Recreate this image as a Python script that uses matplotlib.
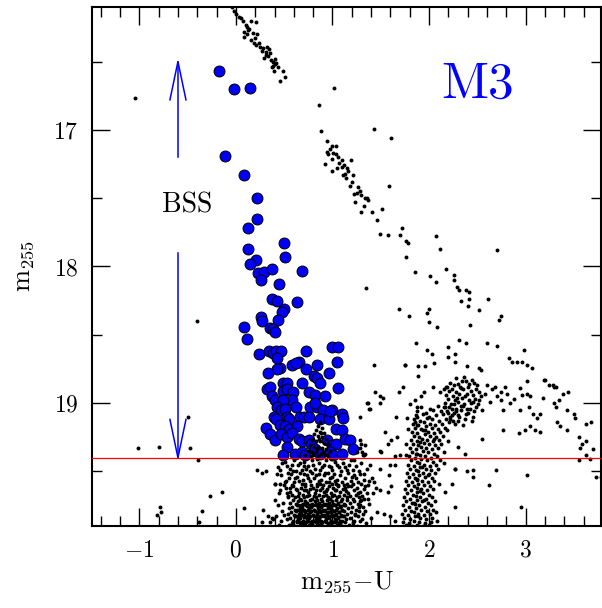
import numpy as np
import matplotlib
matplotlib.use("Agg")
import matplotlib.pyplot as plt
from matplotlib.ticker import MultipleLocator

plt.rcParams['font.family'] = 'cmr10'
plt.rcParams['mathtext.fontset'] = 'cm'
plt.rcParams['axes.formatter.use_mathtext'] = True

# colour (m255-U), magnitude m255 read off the CMD
# upper red giant branch
rgb_top = [(-0.045,16.10),(-0.02,16.13),(0.00,16.15),(0.03,16.17),(0.05,16.18),(0.07,16.20),(0.16,16.20),
           (0.21,16.21),(0.10,16.23),(0.11,16.25),(0.14,16.26),(0.13,16.27),(0.08,16.28),(0.18,16.29),
           (0.22,16.30),(0.12,16.30),(0.08,16.32),(0.20,16.33),(0.16,16.34),(0.19,16.36),(0.24,16.36),
           (0.21,16.38),(0.25,16.39),(0.28,16.40),(0.32,16.39),(0.34,16.41),(0.27,16.42),(0.31,16.43),
           (0.35,16.44),(0.31,16.45),(0.33,16.46),(0.29,16.47),(0.40,16.48),(0.36,16.49),(0.38,16.50),
           (0.42,16.51),(0.40,16.52),(0.38,16.53),(0.37,16.54),(0.44,16.54),(0.39,16.57),(0.49,16.57),
           (0.51,16.61),(0.46,16.64)]

# RGB / AGB between 16.7 and 18.9
rgb_mid = [(1.02,16.69),(0.86,16.82),(0.88,17.01),(0.94,17.08),(1.00,17.12),(1.04,17.12),(0.97,17.14),
           (0.94,17.16),(0.95,17.18),(1.01,17.17),(1.04,17.18),(1.06,17.20),(1.00,17.21),(0.92,17.25),
           (1.07,17.24),(1.10,17.22),(1.19,17.22),(1.12,17.26),(0.99,17.30),(1.10,17.27),(1.15,17.28),
           (1.05,17.28),(1.16,17.30),(1.13,17.32),(1.11,17.33),(1.14,17.35),(1.21,17.33),(1.20,17.38),
           (1.18,17.41),(1.26,17.42),(1.22,17.47),(1.25,17.46),(1.28,17.45),(1.30,17.48),(1.34,17.50),
           (1.36,17.50),(1.23,17.53),(1.37,17.51),(1.30,17.60),(1.33,17.56),(1.41,17.60),(1.51,17.58),
           (1.46,17.66),(1.72,17.72),(1.49,17.76),(1.57,17.77),(1.70,17.77),(1.76,17.81),(1.78,17.83),
           (1.76,17.93),(1.85,18.04),(2.01,18.07),(2.07,18.11),(2.18,18.02),(2.26,18.06),(2.26,18.10),
           (2.29,18.15),(2.31,18.17),(2.38,18.17),(2.41,18.19),(2.33,18.25),(2.41,18.24),(2.40,18.29),
           (2.61,18.24),(2.52,18.32),(1.69,18.31),(1.79,18.36),(1.98,18.34),(2.00,18.31),(2.00,18.41),
           (2.08,18.44),(2.42,18.43),(2.72,18.39),(2.75,18.36),(1.86,18.56),(1.98,18.61),(2.03,18.64),
           (2.20,18.59),(2.20,18.66),(2.27,18.64),(2.31,18.54),(2.38,18.56),(2.60,18.56),(2.70,18.58),
           (1.75,18.72),(1.89,18.73),(1.96,18.73),(1.89,18.80),(2.05,18.71),(2.27,18.70),(2.39,18.73),
           (2.52,18.74),(2.54,18.76),(2.83,18.67),(2.86,18.70),(2.91,18.70),(2.96,18.70),(3.01,18.72),
           (3.07,18.74),(2.98,18.61),(3.19,18.83),(3.28,18.87),(3.31,18.88)]

# horizontal branch: red clump and the tail to the right
hb = [(2.28,18.82),(2.36,18.81),(2.44,18.83),(2.22,18.85),(2.30,18.86),(2.38,18.84),(2.47,18.85),
      (2.19,18.88),(2.26,18.87),(2.33,18.89),(2.40,18.88),(2.50,18.87),(2.21,18.91),(2.28,18.92),
      (2.35,18.90),(2.43,18.91),(2.52,18.92),(2.18,18.94),(2.25,18.95),(2.31,18.93),(2.37,18.95),
      (2.45,18.94),(2.54,18.95),(2.20,18.97),(2.27,18.98),(2.34,18.96),(2.41,18.98),(2.48,18.97),
      (2.17,19.00),(2.23,19.01),(2.30,18.99),(2.36,19.01),(2.43,19.00),(2.51,19.01),(2.21,19.03),
      (2.28,19.04),(2.35,19.02),(2.42,19.04),(2.49,19.03),(2.19,19.06),(2.26,19.07),(2.33,19.05),
      (2.40,19.07),(2.47,19.06),(2.24,19.09),(2.31,19.10),(2.38,19.08),(2.45,19.10),(2.22,19.12),
      (2.30,19.13),(2.37,19.12),(2.27,19.15),(2.35,19.16),(2.55,19.05),(2.55,19.26),(2.32,18.88),
      (2.39,18.93),(2.29,18.96),(2.46,18.99),(2.33,19.02),(2.24,18.90),(2.41,18.86),(2.49,18.90),
      (2.26,19.01),(2.39,19.04),(2.44,19.13),(2.52,18.98),(2.15,19.03),(2.34,18.84),
      (2.60,18.87),(2.65,18.90),(2.68,18.88),(2.74,18.92),(2.79,18.88),(2.81,18.93),(2.74,18.98),
      (2.63,18.99),(2.77,19.05),(2.84,19.00),(2.94,18.89),(2.96,18.94),(3.01,18.93),(3.05,18.95),
      (3.01,18.84),(2.94,19.05),(3.03,19.03),(3.08,19.08),(3.12,19.11),(3.15,19.08),(3.05,19.17),
      (2.99,19.20),(3.10,19.20),(3.15,19.21),(3.20,18.83),(3.24,18.87),(3.29,18.88),(3.39,18.93),
      (3.44,18.92),(3.29,19.00),(3.31,19.03),(3.43,19.05),(3.50,19.08),(3.51,19.11),(3.36,19.17),
      (3.43,19.20),(3.32,19.14),(3.55,19.25),(3.63,19.15),(3.68,19.14),(3.58,19.30),(3.62,19.28),
      (3.56,19.33),(3.55,19.42),(3.63,19.38),(3.67,19.41),(3.70,19.34),(2.93,19.22),(2.77,19.20),
      (2.70,18.95),(2.88,18.97),(3.18,18.96),(3.35,18.98),(2.58,18.93)]

# base of the red giant branch / subgiants
rgb_base = [(1.92,19.03),(2.01,19.04),(2.09,19.02),(2.16,19.03),(2.24,19.04),
            (1.88,19.06),(1.97,19.07),(2.04,19.05),(2.12,19.06),(2.20,19.07),(2.28,19.06),
            (1.86,19.09),(1.94,19.08),(2.00,19.10),(2.07,19.09),(2.14,19.08),(2.22,19.10),
            (1.84,19.12),(1.91,19.13),(1.98,19.11),(2.03,19.12),(2.10,19.13),(2.18,19.12),
            (1.83,19.15),(1.89,19.16),(1.95,19.14),(2.01,19.15),(2.06,19.16),(2.13,19.15),(2.21,19.14),
            (1.85,19.18),(1.92,19.19),(1.97,19.17),(2.03,19.18),(2.09,19.19),(2.16,19.18),
            (1.82,19.21),(1.88,19.22),(1.94,19.20),(1.99,19.21),(2.05,19.22),(2.11,19.21),
            (1.84,19.24),(1.90,19.25),(1.96,19.23),(2.01,19.24),(2.07,19.25),(2.14,19.24),
            (1.81,19.27),(1.87,19.28),(1.93,19.26),(1.98,19.27),(2.04,19.28),(2.10,19.27),
            (1.83,19.30),(1.89,19.31),(1.95,19.29),(2.00,19.30),(2.06,19.31),(2.12,19.30),
            (1.80,19.33),(1.86,19.34),(1.92,19.32),(1.97,19.33),(2.03,19.34),(2.09,19.33),
            (1.82,19.36),(1.88,19.37),(1.94,19.35),(1.99,19.36),(2.05,19.37),(2.15,19.36),
            (1.79,19.39),(1.85,19.40),(1.91,19.38),(1.96,19.39),(2.02,19.40),(2.08,19.39),
            (1.81,19.42),(1.87,19.43),(1.92,19.41),(1.98,19.42),(2.04,19.43),(2.11,19.42),
            (1.78,19.45),(1.84,19.46),(1.90,19.44),(1.95,19.45),(2.01,19.46),(2.07,19.45),
            (1.80,19.48),(1.86,19.49),(1.91,19.47),(1.97,19.48),(2.02,19.49),(2.09,19.48),
            (1.77,19.51),(1.83,19.52),(1.89,19.50),(1.94,19.51),(2.00,19.52),(2.06,19.51),
            (1.79,19.54),(1.85,19.55),(1.90,19.53),(1.96,19.54),(2.03,19.55),
            (1.76,19.57),(1.82,19.58),(1.88,19.56),(1.93,19.57),(1.99,19.58),(2.05,19.57),
            (1.78,19.60),(1.84,19.61),(1.89,19.59),(1.95,19.60),(2.01,19.61),
            (1.75,19.63),(1.81,19.64),(1.87,19.62),(1.92,19.63),(1.98,19.64),(2.04,19.63),
            (1.77,19.66),(1.83,19.67),(1.88,19.65),(1.94,19.66),(2.00,19.67),
            (1.74,19.69),(1.80,19.70),(1.86,19.68),(1.91,19.69),(1.97,19.70),(2.03,19.69),
            (1.76,19.72),(1.82,19.73),(1.87,19.71),(1.93,19.72),(1.99,19.73),(2.06,19.72),
            (1.73,19.75),(1.79,19.76),(1.85,19.74),(1.90,19.75),(1.96,19.76),(2.02,19.75),
            (1.75,19.78),(1.81,19.79),(1.86,19.77),(1.92,19.78),(1.98,19.79),(2.04,19.78),
            (1.72,19.81),(1.78,19.82),(1.84,19.80),(1.89,19.81),(1.95,19.82),(2.01,19.81),(2.07,19.80),
            (1.74,19.84),(1.80,19.85),(1.85,19.83),(1.91,19.84),(1.97,19.85),(2.03,19.84),
            (1.73,19.87),(1.79,19.88),(1.84,19.86),(1.90,19.87),(1.96,19.88),(2.02,19.87),(2.08,19.86),
            (1.76,19.89),(1.82,19.90),(1.88,19.89),(1.94,19.90),(2.00,19.89),
            (1.87,19.105),(1.96,19.195),(1.91,19.285),(1.86,19.375),(1.93,19.465),(1.87,19.555),
            (1.91,19.645),(1.84,19.735),(1.89,19.825),(2.05,19.26),(1.99,19.53),(1.95,19.71),
            (2.25,19.13),(2.19,19.20),(2.20,19.28),(1.78,19.19),(1.76,19.30),(2.30,19.09),
            (2.15,19.44),(2.27,19.48),(2.37,19.37),(2.30,19.32),(2.10,19.59),(2.24,19.59),(2.27,19.76),
            (2.17,19.65),(2.39,19.50),(2.45,19.49),(2.45,19.54),(2.62,19.60),(2.69,19.49),(1.85,19.14),
            (1.87,19.16),(1.66,19.10),(1.77,19.11)]

# main-sequence turnoff
ms_turnoff = [(0.44,19.47),(0.51,19.43),(0.56,19.48),(0.60,19.42),(0.64,19.45),(0.68,19.49),(0.71,19.43),
              (0.75,19.46),(0.79,19.42),(0.82,19.48),(0.86,19.44),(0.89,19.47),(0.93,19.42),(0.96,19.46),
              (1.00,19.49),(1.03,19.43),(1.07,19.47),(1.11,19.44),(1.15,19.49),(1.19,19.42),(1.24,19.46),
              (1.30,19.44),(1.36,19.48),(0.62,19.50),(0.77,19.50),(0.98,19.41),(0.84,19.41),(0.70,19.46),
              (1.09,19.50),(0.53,19.46),
              (0.43,19.52),(0.48,19.44),(0.58,19.45),(0.66,19.44),(0.73,19.48),(0.80,19.45),(0.87,19.49),
              (0.91,19.45),(0.98,19.47),(1.05,19.45),(1.13,19.47),(1.17,19.45),(1.21,19.49),(1.27,19.50),
              (1.33,19.52),(1.39,19.45),
              (0.47,19.53),(0.52,19.57),(0.57,19.52),(0.60,19.58),(0.63,19.54),(0.66,19.51),(0.69,19.56),
              (0.72,19.59),(0.74,19.53),(0.77,19.57),(0.79,19.51),(0.81,19.55),(0.84,19.59),(0.86,19.52),
              (0.88,19.56),(0.91,19.53),(0.93,19.58),(0.95,19.51),(0.97,19.55),(1.00,19.59),(1.02,19.52),
              (1.05,19.56),(1.08,19.53),(1.10,19.58),(1.13,19.55),(1.16,19.51),(1.19,19.57),(1.22,19.53),
              (1.26,19.58),(1.29,19.52),(1.33,19.56),(0.55,19.55),(0.65,19.57),(0.75,19.55),(0.83,19.53),
              (0.90,19.60),(0.99,19.54),(1.06,19.60),(1.15,19.59),(0.71,19.52),(0.61,19.55),(0.92,19.51),
              (1.03,19.57),(0.86,19.57),(1.24,19.55),
              (0.50,19.60),(0.58,19.60),(0.68,19.59),(0.78,19.60),(0.87,19.59),(0.96,19.58),(1.04,19.59),
              (1.12,19.60),(1.21,19.59),(1.30,19.59),(1.38,19.57),
              (0.52,19.62),(0.56,19.65),(0.59,19.61),(0.62,19.63),(0.65,19.66),(0.67,19.62),(0.70,19.64),
              (0.72,19.61),(0.75,19.65),(0.77,19.63),(0.80,19.62),(0.82,19.66),(0.84,19.61),(0.87,19.64),
              (0.89,19.62),(0.91,19.65),(0.94,19.63),(0.96,19.61),(0.98,19.66),(1.01,19.62),(1.03,19.64),
              (1.06,19.61),(1.08,19.65),(1.11,19.63),(1.13,19.62),(1.16,19.66),(1.19,19.61),(1.22,19.64),
              (1.25,19.62),(1.29,19.65),(1.33,19.63),
              (0.63,19.64),(0.73,19.635),(0.83,19.64),(0.93,19.645),(1.04,19.635),(1.14,19.645),(1.26,19.66),
              (0.54,19.68),(0.58,19.67),(0.61,19.69),(0.64,19.68),(0.66,19.70),(0.69,19.67),(0.71,19.69),
              (0.74,19.68),(0.76,19.67),(0.79,19.70),(0.81,19.68),(0.83,19.69),(0.86,19.67),(0.88,19.70),
              (0.90,19.68),(0.93,19.67),(0.95,19.69),(0.97,19.70),(1.00,19.68),(1.02,19.67),(1.05,19.69),
              (1.07,19.68),(1.10,19.70),(1.12,19.67),(1.15,19.69),(1.18,19.68),(1.21,19.70),(1.24,19.67),
              (1.27,19.69),(1.31,19.68),
              (0.56,19.73),(0.59,19.71),(0.62,19.74),(0.64,19.72),(0.67,19.71),(0.69,19.74),(0.72,19.72),
              (0.74,19.73),(0.77,19.71),(0.79,19.74),(0.82,19.72),(0.84,19.71),(0.86,19.73),(0.89,19.72),
              (0.91,19.74),(0.94,19.71),(0.96,19.73),(0.99,19.72),(1.01,19.74),(1.04,19.71),(1.06,19.73),
              (1.09,19.72),(1.12,19.74),(1.15,19.71),(1.18,19.73),(1.22,19.72),(1.26,19.74),(1.30,19.71),
              (0.645,19.745),(0.675,19.75),(0.705,19.74),(0.735,19.755),(0.765,19.745),(0.795,19.75),
              (0.825,19.74),(0.855,19.755),(0.875,19.745),(0.905,19.75),(0.935,19.74),(0.965,19.755),
              (0.995,19.745),(1.025,19.75),(1.055,19.74),(1.085,19.755),(1.115,19.745),
              (0.55,19.77),(0.58,19.76),(0.61,19.78),(0.63,19.75),(0.66,19.77),(0.68,19.76),(0.71,19.78),
              (0.73,19.75),(0.76,19.77),(0.78,19.76),(0.81,19.78),(0.83,19.75),(0.85,19.77),(0.88,19.76),
              (0.90,19.78),(0.93,19.75),(0.95,19.77),(0.98,19.76),(1.00,19.78),(1.03,19.75),(1.05,19.77),
              (1.08,19.76),(1.10,19.78),(1.13,19.75),(1.16,19.77),(1.20,19.76),(1.24,19.78),(1.28,19.75),
              (0.63,19.785),(0.66,19.79),(0.69,19.78),(0.72,19.795),(0.75,19.785),(0.78,19.79),(0.81,19.78),
              (0.84,19.795),(0.86,19.785),(0.89,19.79),(0.92,19.78),(0.95,19.795),(0.98,19.785),
              (1.01,19.79),(1.04,19.78),(1.07,19.795),(1.10,19.785),
              (0.54,19.81),(0.57,19.80),(0.60,19.82),(0.62,19.79),(0.65,19.81),(0.67,19.80),(0.70,19.82),
              (0.72,19.79),(0.75,19.81),(0.77,19.80),(0.80,19.82),(0.82,19.79),(0.84,19.81),(0.87,19.80),
              (0.89,19.82),(0.92,19.79),(0.94,19.81),(0.97,19.80),(0.99,19.82),(1.02,19.79),(1.04,19.81),
              (1.07,19.80),(1.09,19.82),(1.12,19.79),(1.15,19.81),(1.19,19.80),(1.23,19.82),(1.27,19.79),
              (1.32,19.81),
              (0.62,19.825),(0.65,19.83),(0.68,19.82),(0.71,19.835),(0.74,19.825),(0.77,19.83),(0.80,19.82),
              (0.83,19.835),(0.855,19.825),(0.88,19.83),(0.91,19.82),(0.94,19.835),(0.97,19.825),
              (1.00,19.83),(1.03,19.82),(1.06,19.835),(1.09,19.825),(1.12,19.83),
              (0.53,19.85),(0.56,19.84),(0.59,19.86),(0.61,19.83),(0.64,19.85),(0.66,19.84),(0.69,19.86),
              (0.71,19.83),(0.74,19.85),(0.76,19.84),(0.79,19.86),(0.81,19.83),(0.83,19.85),(0.86,19.84),
              (0.88,19.86),(0.91,19.83),(0.93,19.85),(0.96,19.84),(0.98,19.86),(1.01,19.83),(1.03,19.85),
              (1.06,19.84),(1.08,19.86),(1.11,19.83),(1.14,19.85),(1.18,19.84),(1.22,19.86),(1.26,19.83),
              (1.31,19.85),
              (0.63,19.865),(0.66,19.87),(0.69,19.86),(0.72,19.875),(0.75,19.865),(0.78,19.87),(0.81,19.86),
              (0.84,19.875),(0.865,19.865),(0.89,19.87),(0.92,19.86),(0.95,19.875),(0.98,19.865),
              (1.01,19.87),(1.04,19.86),(1.07,19.875),(1.10,19.865),
              (0.55,19.89),(0.58,19.88),(0.61,19.90),(0.63,19.87),(0.66,19.89),(0.68,19.88),(0.71,19.90),
              (0.73,19.87),(0.76,19.89),(0.78,19.88),(0.81,19.90),(0.83,19.87),(0.85,19.89),(0.88,19.88),
              (0.90,19.90),(0.93,19.87),(0.95,19.89),(0.98,19.88),(1.00,19.90),(1.03,19.87),(1.05,19.89),
              (1.08,19.88),(1.10,19.90),(1.13,19.87),(1.17,19.89),(1.21,19.88),(1.25,19.90),
              (0.41,19.59),(0.51,19.58),(0.54,19.51),(0.59,19.50),(0.56,19.62),(0.53,19.66),(0.40,19.71),
              (0.49,19.73),(0.54,19.69),(0.37,19.84),(0.42,19.83),(0.47,19.86),(1.41,19.55),(1.43,19.58),
              (1.34,19.61),(1.37,19.60),(1.37,19.70),(1.32,19.76),(1.40,19.84),(1.28,19.72),(1.27,19.76),
              (1.23,19.81),(1.20,19.54),(1.16,19.61),(1.22,19.42),(1.36,19.66),(1.35,19.88),(0.48,19.79),
              (0.46,19.64),(0.44,19.75),(0.50,19.82),(0.45,19.89),(1.34,19.79),(1.38,19.74),(1.42,19.66),
              (1.45,19.62),(1.29,19.86),(1.33,19.70)]

# stars scattered around the main sequences
field = [(-1.04,16.77),(1.43,16.99),(1.61,17.06),(1.59,17.41),(2.07,17.78),(2.11,17.87),(2.70,17.88),
         (1.35,18.16),(-0.40,18.40),(-0.50,19.10),(-0.80,19.32),(-1.01,19.33),(-0.48,19.33),
         (-0.39,19.42),(-0.27,19.68),(-0.14,19.65),(-0.79,19.76),(-0.78,19.80),(-0.82,19.82),
         (-0.35,19.79),(-0.38,19.87),(0.08,19.77),(0.22,19.49),(0.27,19.51),(0.31,19.50),(0.28,19.78),
         (0.27,19.87),(0.35,19.87),(0.33,19.83),(0.38,19.85),(0.46,19.49),(0.41,19.59),(0.46,19.59),
         (0.45,19.66),(1.43,18.72),(1.75,18.72),(1.44,18.92),(1.49,18.95),(1.52,18.96),(1.69,18.92),
         (1.73,18.88),(1.37,19.00),(1.39,19.04),(1.49,19.00),(1.80,19.01),(1.85,18.98),(1.87,19.03),
         (1.92,18.95),(1.95,18.92),(2.04,18.88),(2.11,18.92),(2.15,18.90),(2.18,18.88),(1.28,19.10),
         (1.54,19.21),(1.49,19.35),(1.50,19.36),(1.57,19.30),(1.61,19.27),(1.67,19.25),(1.65,19.39),
         (1.70,19.38),(1.76,19.38),(1.49,19.48),(1.60,19.45),(1.65,19.45),(1.49,19.64),(1.57,19.65),
         (1.59,19.53),(1.61,19.61),(1.46,19.80),(1.53,19.81),(1.60,19.83),(1.65,19.86),(1.28,19.33),
         (1.32,19.38),(1.34,19.37),(1.36,19.00),(1.38,19.04),(1.28,19.27),(1.30,19.30),(1.34,19.31),
         (1.25,19.36),(1.31,19.36),(1.33,19.38),(2.27,19.48),(2.95,19.76),(3.01,19.53),(3.73,19.54),
         (3.78,19.54)]

# faint stars overlapping the bottom of the BSS region
bss_zone_dots = [(0.87,19.14),(0.85,19.17),(0.89,19.18),(0.83,19.20),(0.87,19.21),(0.91,19.22),(0.81,19.23),
                 (0.85,19.24),(0.89,19.25),(0.93,19.26),(0.79,19.27),(0.83,19.28),(0.87,19.28),(0.91,19.29),
                 (0.95,19.30),(0.77,19.31),(0.81,19.32),(0.85,19.32),(0.89,19.33),(0.93,19.34),(0.97,19.35),
                 (0.75,19.35),(0.79,19.36),(0.83,19.36),(0.88,19.37),(0.92,19.38),(0.72,19.38),(0.78,19.39),
                 (0.85,19.39),(0.95,19.39),(0.86,19.26),(0.84,19.34),(0.90,19.36),(0.80,19.38),(0.88,19.22)]

# blue stragglers
bss = [(-0.17,16.57),(-0.02,16.70),(0.15,16.69),(-0.11,17.19),(0.08,17.33),(0.22,17.50),(0.22,17.65),
       (0.13,17.72),(0.13,17.87),(0.50,17.83),(0.21,17.95),(0.15,17.98),(0.51,17.93),(0.23,18.05),
       (0.29,18.04),(0.37,18.02),(0.68,18.03),(0.26,18.10),(0.45,18.13),(0.37,18.24),(0.43,18.25),
       (0.63,18.26),(0.50,18.31),(0.48,18.33),(0.26,18.37),(0.27,18.40),(0.44,18.39),(0.08,18.44),
       (0.35,18.45),(0.38,18.46),(0.40,18.48),(0.12,18.53),(0.24,18.64),(0.34,18.62),(0.38,18.63),
       (0.42,18.62),(0.47,18.62),(0.73,18.62),(0.99,18.59),(1.06,18.59),(0.43,18.67),(1.05,18.70),
       (0.58,18.72),(0.65,18.70),(0.62,18.71),(0.84,18.72),(0.46,18.74),(0.43,18.75),(0.33,18.78),
       (0.73,18.75),(0.96,18.78),(0.81,18.80),(0.84,18.82),(0.87,18.85),(0.49,18.85),(0.53,18.85),
       (0.68,18.85),(1.06,18.89),(0.32,18.90),(0.35,18.88),(0.49,18.91),(0.53,18.90),(0.59,18.92),
       (0.76,18.92),(0.82,18.94),(0.92,18.95),(0.37,18.95),(0.40,18.98),(0.58,18.98),(0.49,18.98),
       (0.77,19.03),(0.84,19.03),(0.82,19.00),(0.43,19.03),(0.47,19.05),(0.51,19.04),(0.62,19.03),
       (0.90,19.05),(0.99,19.05),(1.10,19.08),(1.11,19.11),(0.39,19.10),(0.42,19.12),(0.53,19.10),
       (0.55,19.12),(0.66,19.10),(0.70,19.10),(0.76,19.10),(0.87,19.12),(0.96,19.12),(0.31,19.18),
       (0.46,19.16),(0.51,19.17),(0.55,19.19),(0.63,19.17),(1.04,19.19),(1.10,19.20),(0.35,19.23),
       (0.40,19.27),(0.47,19.23),(0.53,19.25),(0.58,19.22),(0.65,19.26),(0.68,19.28),(0.76,19.27),
       (0.78,19.30),(0.94,19.27),(0.99,19.31),(1.04,19.30),(1.13,19.26),(1.18,19.27),(1.21,19.34),
       (0.53,19.32),(0.49,19.38),(0.61,19.37),(0.68,19.36),(0.72,19.38),(0.82,19.34),(0.87,19.37),
       (0.97,19.36),(1.01,19.38),(1.10,19.37),(0.97,19.06)]

bss_limit = 19.4

fig = plt.figure(figsize=(6.02, 6.08), dpi=100)
ax = fig.add_axes([0.1528, 0.1349, 0.8455, 0.8536])

stars = np.array(rgb_top + rgb_mid + hb + rgb_base + ms_turnoff + field + bss_zone_dots)
bss_arr = np.array(bss)

ax.scatter(bss_arr[:, 0], bss_arr[:, 1], s=62, c='#0000f5', edgecolors='black',
           linewidths=0.7, zorder=2)
ax.scatter(stars[:, 0], stars[:, 1], s=8, c='black', linewidths=0, zorder=3)

ax.axhline(bss_limit, color='red', lw=0.9, zorder=4)

# double arrow marking the BSS magnitude range
ax.plot([-0.6, -0.6], [16.5, 17.2], color='blue', lw=1.1)
ax.plot([-0.683, -0.6, -0.517], [16.78, 16.5, 16.78], color='blue', lw=1.1)
ax.plot([-0.6, -0.6], [17.9, bss_limit], color='blue', lw=1.1)
ax.plot([-0.683, -0.6, -0.517], [19.12, bss_limit, 19.12], color='blue', lw=1.1)
ax.text(-0.5, 17.55, 'BSS', ha='center', va='center', fontsize=20)
ax.text(2.5, 16.67, 'M3', color='blue', fontsize=37, ha='center', va='center')

ax.set_xlim(-1.49, 3.78)
ax.set_ylim(19.9, 16.1)
ax.xaxis.set_major_locator(MultipleLocator(1))
ax.xaxis.set_minor_locator(MultipleLocator(0.2))
ax.yaxis.set_major_locator(MultipleLocator(1))
ax.yaxis.set_minor_locator(MultipleLocator(0.5))
ax.tick_params(which='both', direction='in', top=True, right=True, width=1, labelsize=17)
ax.tick_params(which='major', length=13, pad=10)
ax.tick_params(which='minor', length=7)
for s in ax.spines.values():
    s.set_linewidth(1.5)

ax.set_xlabel(r'$\mathrm{m_{255}{-}U}$', fontsize=19, labelpad=5)
ax.set_ylabel(r'$\mathrm{m_{255}}$', fontsize=19, labelpad=12)

fig.savefig('out.png', dpi=100)
